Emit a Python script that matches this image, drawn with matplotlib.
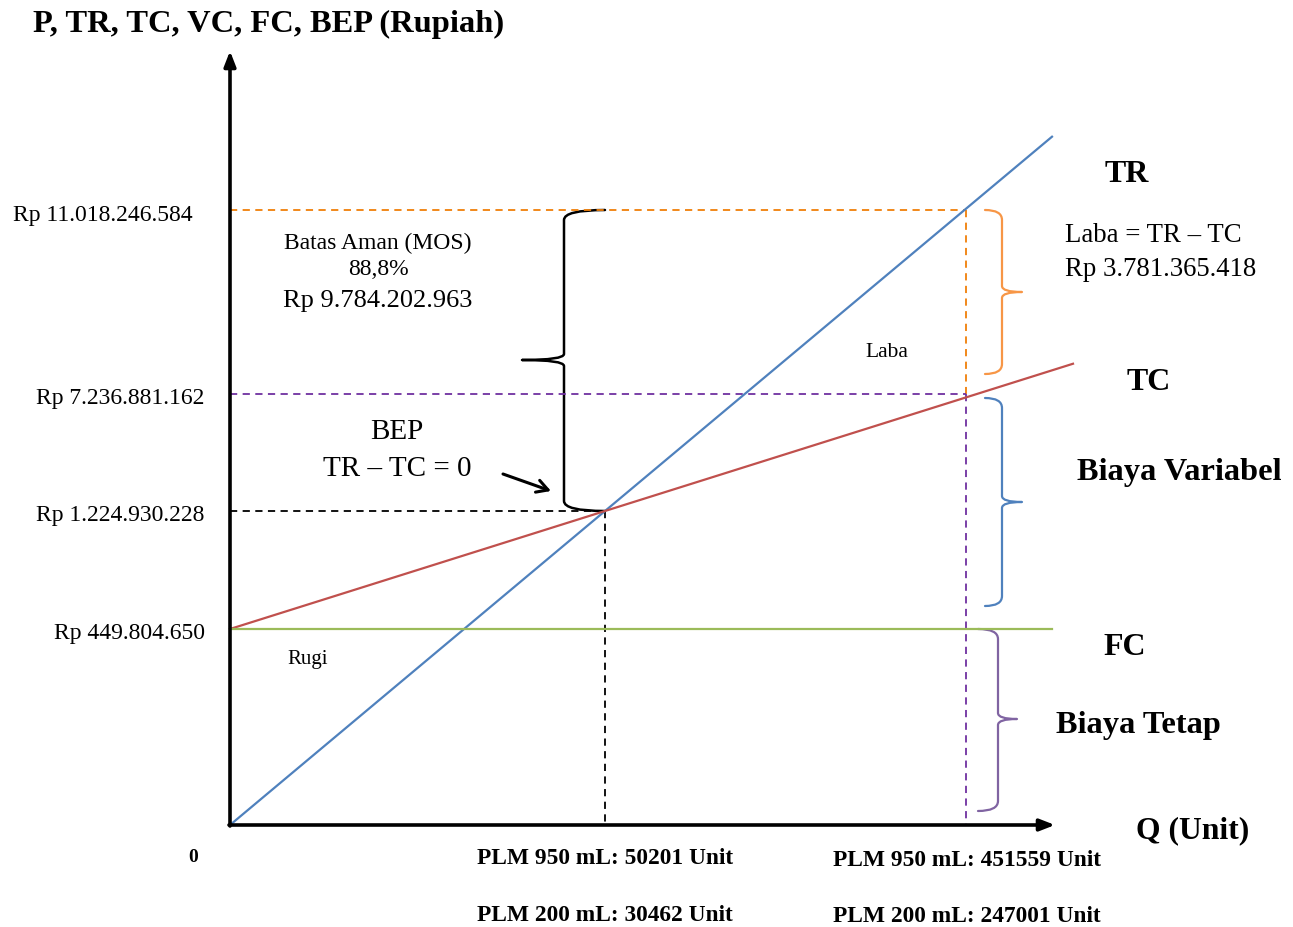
import matplotlib.pyplot as plt
from matplotlib.path import Path
from matplotlib.patches import PathPatch

plt.rcParams['font.family'] = ['Liberation Serif', 'DejaVu Serif']

# nilai rupiah pada sumbu P (skema, tidak berskala)
nilai_rp = [11018246584, 7236881162, 1224930228, 449804650]
# posisi skematik tiap level (koordinat gambar)
level_y = [211, 395, 512, 630]
label_x = [193, 204, 204, 205]

q_bep = ['PLM 950 mL: 50201 Unit', 'PLM 200 mL: 30462 Unit']
q_total = ['PLM 950 mL: 451559 Unit', 'PLM 200 mL: 247001 Unit']

mos_persen = '88,8%'
mos_rp = 9784202963
laba_rp = 3781365418

def rupiah(v):
    return 'Rp ' + f'{v:,}'.replace(',', '.')

# titik-titik skema
x0, y0 = 230, 826          # titik asal
x_bep, x_end = 605, 966    # Q pada BEP dan Q total
y_tr, y_tc, y_bep, y_fc = level_y

fig = plt.figure(figsize=(12.93, 9.28), dpi=100)
ax = fig.add_axes([0, 0, 1, 1])
ax.set_xlim(0, 1293)
ax.set_ylim(928, 0)
ax.axis('off')

biru, merah, hijau = '#4F81BD', '#C0504D', '#9BBB59'
oranye, ungu = '#F07F09', '#7030A0'

# garis putus-putus bantu
ax.plot([x0, x_end], [y_tr, y_tr], ls=(0, (4, 3)), color=oranye, lw=1.3)
ax.plot([x_end, x_end], [y_tr, y_tc], ls=(0, (4, 3)), color=oranye, lw=1.3)
ax.plot([x0, x_end], [y_tc, y_tc], ls=(0, (4, 3)), color=ungu, lw=1.3)
ax.plot([x_end, x_end], [y_tc, y0], ls=(0, (4, 3)), color=ungu, lw=1.3)
ax.plot([x0, x_bep], [y_bep, y_bep], ls=(0, (4, 3)), color='black', lw=1.3)
ax.plot([x_bep, x_bep], [y_bep, y0], ls=(0, (4, 3)), color='black', lw=1.3)

# TR, TC, FC
k_tr = (y0 - y_bep) / (x_bep - x0)
k_tc = (y_fc - y_bep) / (x_bep - x0)
ax.plot([x0, 1052], [y0, y0 - k_tr * (1052 - x0)], color=biru, lw=1.6)
ax.plot([x0, 1073], [y_fc, y_fc - k_tc * (1073 - x0)], color=merah, lw=1.6)
ax.plot([x0, 1052], [y_fc, y_fc], color=hijau, lw=1.6)

# sumbu
ax.annotate('', xy=(x0, 52), xytext=(x0, y0 + 1),
            arrowprops=dict(arrowstyle='-|>,head_length=0.9,head_width=0.35',
                            color='black', lw=2.6, shrinkA=0, shrinkB=0))
ax.annotate('', xy=(1055, y0), xytext=(x0 - 1, y0),
            arrowprops=dict(arrowstyle='-|>,head_length=0.9,head_width=0.35',
                            color='black', lw=2.6, shrinkA=0, shrinkB=0))


def kurung(xa, xv, xt, ya, yb, ym, warna, lw):
    r = 10
    v = [(xa, ya), (xv, ya), (xv, ya + r),
         (xv, ym - 6), (xv, ym), (xt, ym),
         (xv, ym), (xv, ym + 6),
         (xv, yb - r), (xv, yb), (xa, yb)]
    c = [Path.MOVETO, Path.CURVE3, Path.CURVE3,
         Path.LINETO, Path.CURVE3, Path.CURVE3,
         Path.CURVE3, Path.CURVE3,
         Path.LINETO, Path.CURVE3, Path.CURVE3]
    ax.add_patch(PathPatch(Path(v, c), fill=False, edgecolor=warna, lw=lw,
                           capstyle='round', joinstyle='round'))


kurung(x_bep, 564, 522, y_tr, y_bep, 361, 'black', 1.8)
kurung(985, 1002, 1022, y_tr, 375, 293, '#F79646', 1.6)
kurung(985, 1002, 1022, 399, 607, 503, biru, 1.6)
kurung(978, 998, 1017, y_fc, 812, 720, '#8064A2', 1.6)

# panah ke BEP
ax.annotate('', xy=(551, 492), xytext=(503, 475),
            arrowprops=dict(arrowstyle='->,head_length=0.8,head_width=0.45',
                            color='black', lw=2.2, shrinkA=0, shrinkB=0))

# label sumbu P
for v, y, x in zip(nilai_rp, level_y, label_x):
    ax.text(x, y + 4, rupiah(v), ha='right', va='center', fontsize=17)

ax.text(33, 24, 'P, TR, TC, VC, FC, BEP (Rupiah)', ha='left', va='center',
        fontsize=23.4, fontweight='bold')
ax.text(193, 858, '0', ha='center', va='center', fontsize=14, fontweight='bold')
ax.text(1193, 831, 'Q (Unit)', ha='center', va='center', fontsize=22.8, fontweight='bold')

for i, s in enumerate(q_bep):
    ax.text(x_bep, 859 + 57 * i, s, ha='center', va='center', fontsize=16.8, fontweight='bold')
for i, s in enumerate(q_total):
    ax.text(x_end + 1, 861 + 56 * i, s, ha='center', va='center', fontsize=16.8, fontweight='bold')

ax.text(1127, 174, 'TR', ha='center', va='center', fontsize=23, fontweight='bold')
ax.text(1149, 383, 'TC', ha='center', va='center', fontsize=23, fontweight='bold')
ax.text(1125, 648, 'FC', ha='center', va='center', fontsize=23, fontweight='bold')
ax.text(1179, 473, 'Biaya Variabel', ha='center', va='center', fontsize=23.3, fontweight='bold')
ax.text(1138, 726, 'Biaya Tetap', ha='center', va='center', fontsize=23.3, fontweight='bold')

ax.text(1065, 236, 'Laba = TR \u2013 TC', ha='left', va='center', fontsize=19.3)
ax.text(1065, 270, rupiah(laba_rp), ha='left', va='center', fontsize=19.3)

ax.text(378, 243, 'Batas Aman (MOS)', ha='center', va='center', fontsize=17)
ax.text(378, 270, mos_persen, ha='center', va='center', fontsize=17)
ax.text(378, 301, rupiah(mos_rp), ha='center', va='center', fontsize=19)

ax.text(397, 432, 'BEP', ha='center', va='center', fontsize=21)
ax.text(397, 469, 'TR \u2013 TC = 0', ha='center', va='center', fontsize=21)

ax.text(887, 353, 'Laba', ha='center', va='center', fontsize=15.5)
ax.text(308, 660, 'Rugi', ha='center', va='center', fontsize=15)

fig.savefig('out.png', dpi=100)
